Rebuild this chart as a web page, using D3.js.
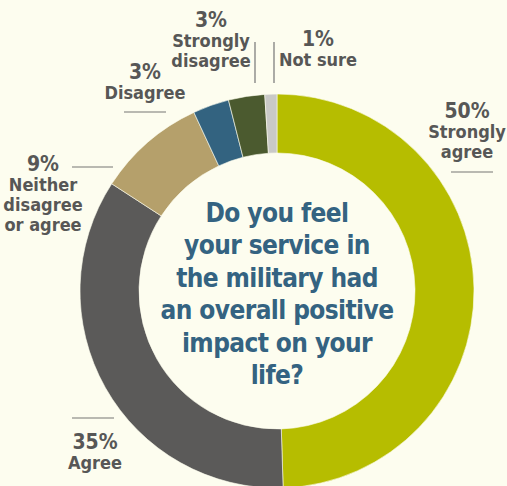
<!DOCTYPE html>
<html>
<head>
<meta charset="utf-8">
<script src="https://cdn.jsdelivr.net/npm/d3@7"></script>
<style>
  html, body { margin: 0; padding: 0; background: #fdfdef; }
  svg { display: block; }
</style>
</head>
<body>
<div id="chart"></div>
<script>
// data
const categories = ['Strongly agree', 'Agree', 'Neither disagree or agree', 'Disagree', 'Strongly disagree', 'Not sure']
const values = [50, 35, 9, 3, 3, 1]
const colors = ['#b6bd00', '#5b5a59', '#b5a06b', '#336380', '#4b5a2f', '#c9c9c7']
const question = ['Do you feel', 'your service in', 'the military had', 'an overall positive', 'impact on your', 'life?']

// label placement (text lines, anchor x, first baseline, leader line)
const labelLayout = [
  { lines: ['Strongly', 'agree'], x: 467, y: 118, line: [451, 172, 493, 172] },
  { lines: ['Agree'], x: 95, y: 449, line: [72, 418, 114, 418] },
  { lines: ['Neither', 'disagree', 'or agree'], x: 43, y: 171, line: [72, 167, 113, 167] },
  { lines: ['Disagree'], x: 145, y: 79, line: [124, 112, 166, 112] },
  { lines: ['Strongly', 'disagree'], x: 211, y: 27, line: [255, 42, 255, 83] },
  { lines: ['Not sure'], x: 318, y: 46, line: [274, 42, 274, 83] }
]

const width = 507
const height = 486
const cx = 277, cy = 291
const outerR = 197, innerR = 138
const font = "'DejaVu Sans Condensed', 'DejaVu Sans', sans-serif"

let svg = d3.select('#chart')
            .append('svg')
            .attr('width', width)
            .attr('height', height)

svg.append('rect')
    .attr('width', width)
    .attr('height', height)
    .attr('fill', '#fdfdef')

const pie = d3.pie().sort(null).value(d => d)
const arc = d3.arc().innerRadius(innerR).outerRadius(outerR)

const g = svg.append('g').attr('transform', `translate(${cx},${cy})`)

g.selectAll('path')
    .data(pie(values))
    .enter()
    .append('path')
    .attr('d', arc)
    .attr('fill', (_, i) => colors[i])
    .attr('stroke', '#fdfdef')
    .attr('stroke-width', 0.6)

// labels: percent and category name as separate texts
labelLayout.forEach((l, i) => {
    svg.append('text')
        .attr('x', l.x)
        .attr('y', l.y)
        .attr('text-anchor', 'middle')
        .attr('fill', '#575756')
        .style('font-family', font)
        .style('font-weight', 'bold')
        .style('font-size', '21px')
        .text(values[i] + '%')
    svg.append('text')
        .attr('text-anchor', 'middle')
        .attr('fill', '#575756')
        .style('font-family', font)
        .style('font-weight', 'bold')
        .style('font-size', '18px')
        .selectAll('tspan')
        .data(l.lines)
        .enter()
        .append('tspan')
        .attr('x', l.x)
        .attr('y', (_, j) => l.y + 20 + j * 20)
        .text(d => d)
    svg.append('line')
        .attr('x1', l.line[0]).attr('y1', l.line[1])
        .attr('x2', l.line[2]).attr('y2', l.line[3])
        .attr('stroke', '#767675')
        .attr('stroke-width', 1.2)
})

// question in the middle
svg.append('text')
    .attr('text-anchor', 'middle')
    .attr('fill', '#346381')
    .style('font-family', font)
    .style('font-weight', 'bold')
    .style('font-size', '26px')
    .style('letter-spacing', '-0.6px')
    .selectAll('tspan')
    .data(question)
    .enter()
    .append('tspan')
    .attr('x', cx)
    .attr('y', (_, i) => 222 + i * 32.4)
    .text(d => d)
</script>
</body>
</html>
